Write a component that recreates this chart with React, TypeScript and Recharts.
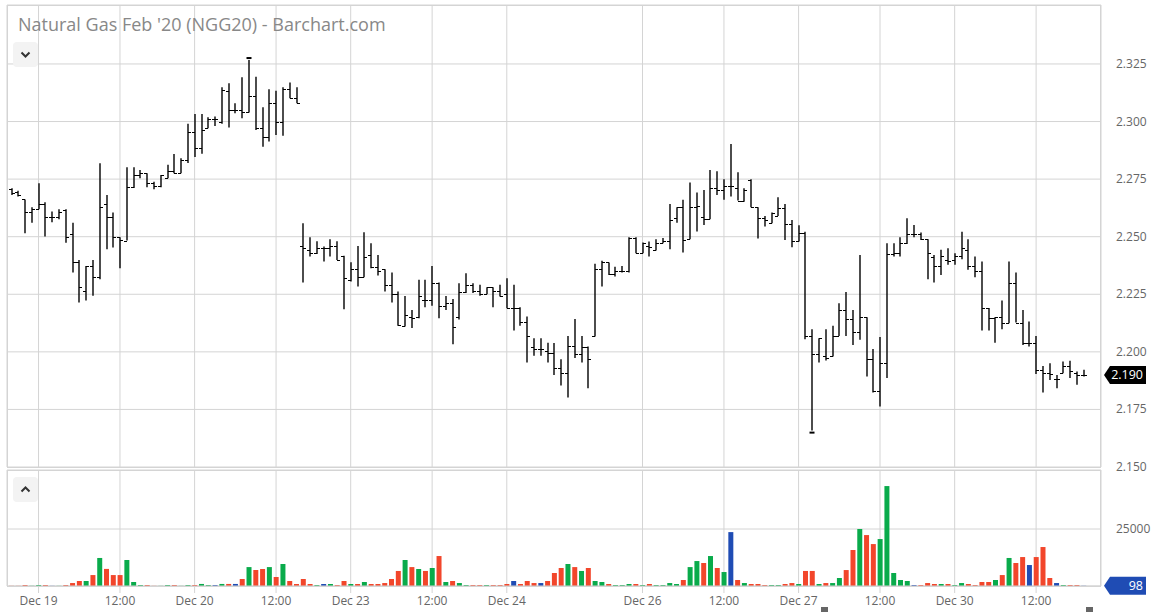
import type { JSX } from "react"
import {
  Bar,
  CartesianGrid,
  Cell,
  ComposedChart,
  ReferenceLine,
  XAxis,
  YAxis,
} from "recharts"

// trading sessions (CT hours), used to build the hourly categories
const sessions: Array<[string, number, number]> = [
  ["Dec 18", 20, 23],
  ["Dec 19", 0, 15], ["Dec 19", 17, 23],
  ["Dec 20", 0, 15],
  ["Dec 22", 17, 23],
  ["Dec 23", 0, 15], ["Dec 23", 17, 23],
  ["Dec 24", 0, 12],
  ["Dec 25", 17, 23],
  ["Dec 26", 0, 15], ["Dec 26", 17, 23],
  ["Dec 27", 0, 15],
  ["Dec 29", 17, 23],
  ["Dec 30", 0, 15], ["Dec 30", 17, 20],
]

const opens = [
  2.2707, 2.2692, 2.2662, 2.2609, 2.2619, 2.2642, 2.2587, 2.2587, 2.2616, 2.2511,
  2.2389, 2.2266, 2.2373, 2.2323, 2.2642, 2.2587, 2.2498, 2.2483, 2.2715, 2.2768,
  2.2775, 2.2732, 2.2718, 2.2754, 2.2787, 2.2778, 2.2835, 2.2955, 2.2885, 2.2972,
  2.3010, 2.3000, 2.3134, 2.3050, 2.3050, 2.3040, 2.3111, 2.2971, 2.2935, 2.3079,
  2.2998, 2.3140, 2.3101, 2.2460, 2.2443, 2.2428, 2.2450, 2.2450, 2.2460, 2.2414,
  2.2313, 2.2359, 2.2327, 2.2421, 2.2370, 2.2359, 2.2290, 2.2250, 2.2113, 2.2151,
  2.2151, 2.2226, 2.2223, 2.2301, 2.2200, 2.2211, 2.2151, 2.2259, 2.2290, 2.2266,
  2.2250, 2.2281, 2.2266, 2.2250, 2.2189, 2.2189, 2.2129, 2.2020, 2.2012, 2.2002,
  2.1997, 2.1929, 2.1910, 2.2026, 2.1991, 2.2023, 2.2067, 2.2359, 2.2388, 2.2338,
  2.2349, 2.2349, 2.2494, 2.2428, 2.2460, 2.2443, 2.2472, 2.2482, 2.2580, 2.2628,
  2.2489, 2.2628, 2.2587, 2.2576, 2.2710, 2.2703, 2.2718, 2.2710, 2.2657, 2.2746,
  2.2628, 2.2580, 2.2561, 2.2590, 2.2623, 2.2556, 2.2482, 2.2518, 2.2067, 2.1991,
  2.1980, 2.1983, 2.2069, 2.2182, 2.2142, 2.2088, 2.2150, 2.1968, 2.1828, 2.1951,
  2.2425, 2.2431, 2.2472, 2.2512, 2.2512, 2.2489, 2.2410, 2.2373, 2.2399, 2.2399,
  2.2414, 2.2443, 2.2373, 2.2349, 2.2190, 2.2146, 2.2150, 2.2127, 2.2298, 2.2127,
  2.2038, 2.2038, 2.1922, 2.1910, 2.1881, 2.1910, 2.1939, 2.1910, 2.1900,
]

const highs = [
  2.2710, 2.2700, 2.2662, 2.2628, 2.2732, 2.2650, 2.2609, 2.2619, 2.2619, 2.2561,
  2.2399, 2.2373, 2.2399, 2.2819, 2.2681, 2.2605, 2.2498, 2.2802, 2.2802, 2.2790,
  2.2775, 2.2739, 2.2768, 2.2812, 2.2859, 2.2841, 2.2990, 2.3033, 2.3033, 2.3019,
  2.3022, 2.3149, 2.3166, 2.3079, 2.3192, 2.3267, 2.3195, 2.3062, 2.3140, 2.3134,
  2.3149, 2.3170, 2.3149, 2.2558, 2.2498, 2.2480, 2.2457, 2.2489, 2.2480, 2.2417,
  2.2389, 2.2460, 2.2519, 2.2472, 2.2421, 2.2359, 2.2344, 2.2262, 2.2243, 2.2182,
  2.2313, 2.2313, 2.2373, 2.2301, 2.2243, 2.2229, 2.2298, 2.2341, 2.2298, 2.2291,
  2.2281, 2.2281, 2.2291, 2.2320, 2.2291, 2.2194, 2.2153, 2.2059, 2.2059, 2.2040,
  2.2038, 2.1968, 2.2069, 2.2143, 2.2069, 2.2023, 2.2382, 2.2396, 2.2388, 2.2370,
  2.2373, 2.2498, 2.2498, 2.2475, 2.2479, 2.2489, 2.2494, 2.2642, 2.2628, 2.2660,
  2.2735, 2.2692, 2.2703, 2.2790, 2.2784, 2.2749, 2.2903, 2.2780, 2.2710, 2.2749,
  2.2628, 2.2590, 2.2605, 2.2671, 2.2642, 2.2573, 2.2550, 2.2521, 2.2098, 2.2059,
  2.2098, 2.2113, 2.2211, 2.2260, 2.2182, 2.2421, 2.2150, 2.2012, 2.2064, 2.2472,
  2.2472, 2.2498, 2.2580, 2.2551, 2.2518, 2.2489, 2.2421, 2.2443, 2.2450, 2.2428,
  2.2521, 2.2489, 2.2414, 2.2392, 2.2190, 2.2150, 2.2223, 2.2392, 2.2344, 2.2182,
  2.2132, 2.2069, 2.1939, 2.1951, 2.1900, 2.1958, 2.1961, 2.1915, 2.1922,
]

const lows = [
  2.2681, 2.2674, 2.2515, 2.2561, 2.2619, 2.2501, 2.2563, 2.2576, 2.2474, 2.2344,
  2.2214, 2.2223, 2.2244, 2.2315, 2.2446, 2.2453, 2.2363, 2.2483, 2.2711, 2.2754,
  2.2715, 2.2706, 2.2715, 2.2754, 2.2775, 2.2775, 2.2820, 2.2846, 2.2860, 2.2971,
  2.2981, 2.2990, 2.2974, 2.3036, 2.3014, 2.3039, 2.2963, 2.2891, 2.2913, 2.2942,
  2.2938, 2.3101, 2.3079, 2.2301, 2.2414, 2.2425, 2.2392, 2.2414, 2.2399, 2.2185,
  2.2305, 2.2284, 2.2324, 2.2363, 2.2331, 2.2262, 2.2214, 2.2113, 2.2110, 2.2103,
  2.2146, 2.2194, 2.2200, 2.2146, 2.2182, 2.2033, 2.2140, 2.2255, 2.2255, 2.2244,
  2.2250, 2.2194, 2.2240, 2.2189, 2.2093, 2.2113, 2.1954, 2.1983, 2.1983, 2.1954,
  2.1900, 2.1854, 2.1802, 2.1973, 2.1954, 2.1842, 2.2067, 2.2284, 2.2334, 2.2327,
  2.2344, 2.2344, 2.2428, 2.2428, 2.2414, 2.2440, 2.2472, 2.2446, 2.2561, 2.2431,
  2.2489, 2.2522, 2.2551, 2.2576, 2.2681, 2.2660, 2.2674, 2.2657, 2.2652, 2.2628,
  2.2492, 2.2544, 2.2558, 2.2590, 2.2486, 2.2454, 2.2479, 2.2055, 2.1658, 2.1954,
  2.1962, 2.1980, 2.2069, 2.2069, 2.2030, 2.2052, 2.1893, 2.1823, 2.1763, 2.1886,
  2.2414, 2.2414, 2.2468, 2.2498, 2.2486, 2.2315, 2.2301, 2.2334, 2.2378, 2.2378,
  2.2402, 2.2356, 2.2324, 2.2093, 2.2093, 2.2040, 2.2098, 2.2124, 2.2127, 2.2030,
  2.2023, 2.1904, 2.1823, 2.1878, 2.1842, 2.1907, 2.1886, 2.1857, 2.1893,
]

const closes = [
  2.2689, 2.2682, 2.2609, 2.2619, 2.2642, 2.2587, 2.2587, 2.2609, 2.2498, 2.2389,
  2.2281, 2.2373, 2.2323, 2.2628, 2.2587, 2.2498, 2.2486, 2.2715, 2.2768, 2.2775,
  2.2732, 2.2718, 2.2768, 2.2787, 2.2778, 2.2835, 2.2955, 2.2885, 2.2965, 2.3010,
  2.3010, 2.3135, 2.3050, 2.3050, 2.3040, 2.3111, 2.2971, 2.2935, 2.3079, 2.2998,
  2.3140, 2.3101, 2.3079, 2.2453, 2.2428, 2.2450, 2.2450, 2.2460, 2.2399, 2.2320,
  2.2359, 2.2327, 2.2411, 2.2370, 2.2352, 2.2290, 2.2250, 2.2117, 2.2158, 2.2146,
  2.2243, 2.2223, 2.2301, 2.2200, 2.2211, 2.2110, 2.2259, 2.2290, 2.2266, 2.2250,
  2.2281, 2.2266, 2.2243, 2.2189, 2.2189, 2.2129, 2.2067, 2.2012, 2.2012, 2.1997,
  2.1929, 2.1910, 2.2026, 2.1991, 2.2023, 2.1968, 2.2359, 2.2388, 2.2338, 2.2349,
  2.2353, 2.2494, 2.2428, 2.2472, 2.2457, 2.2472, 2.2482, 2.2573, 2.2628, 2.2486,
  2.2628, 2.2635, 2.2576, 2.2710, 2.2703, 2.2718, 2.2718, 2.2657, 2.2703, 2.2628,
  2.2580, 2.2573, 2.2602, 2.2623, 2.2556, 2.2482, 2.2518, 2.2067, 2.1991, 2.2059,
  2.1975, 2.2069, 2.2182, 2.2142, 2.2088, 2.2150, 2.1968, 2.1828, 2.1951, 2.2425,
  2.2431, 2.2472, 2.2512, 2.2512, 2.2489, 2.2428, 2.2373, 2.2414, 2.2395, 2.2414,
  2.2450, 2.2373, 2.2349, 2.2190, 2.2146, 2.2150, 2.2127, 2.2298, 2.2127, 2.2038,
  2.2038, 2.1922, 2.1910, 2.1905, 2.1881, 2.1939, 2.1915, 2.1900, 2.1900,
]

const volumes = [
  80, 80, 440, 80, 440, 440, 80, 80, 440, 1300,
  2200, 2200, 4800, 12300, 7500, 4800, 4800, 11400, 1750, 450,
  450, 80, 80, 450, 450, 80, 450, 450, 900, 450,
  450, 900, 900, 900, 3070, 8300, 7000, 7450, 8300, 3950,
  9650, 2200, 880, 3070, 880, 440, 880, 880, 440, 2200,
  880, 880, 1750, 880, 880, 1300, 3070, 6600, 11400, 8300,
  7450, 6600, 7900, 13150, 1750, 2200, 1300, 440, 440, 440,
  440, 440, 440, 880, 2200, 880, 2200, 1300, 1300, 2200,
  5700, 7900, 9650, 8300, 6600, 7900, 2200, 1750, 880, 440,
  440, 880, 880, 440, 880, 440, 440, 1300, 880, 2630,
  8300, 10950, 10100, 13150, 7900, 6130, 23650, 2630, 1300, 880,
  880, 440, 440, 440, 880, 1300, 880, 6600, 6600, 880,
  1300, 1300, 3500, 7000, 15800, 25000, 22350, 18400, 20600, 43850,
  5700, 2630, 2200, 440, 440, 1300, 880, 880, 880, 440,
  1300, 880, 440, 1750, 1750, 2630, 4800, 12300, 10100, 12700,
  9200, 12700, 17100, 3500, 1300, 440, 440, 440, 98,
]

const tickKeys = [
  "Dec 19 00:00", "Dec 19 12:00", "Dec 20 00:00", "Dec 20 12:00", "Dec 23 00:00",
  "Dec 23 12:00", "Dec 24 00:00", "Dec 26 00:00", "Dec 26 12:00", "Dec 27 00:00",
  "Dec 27 12:00", "Dec 30 00:00", "Dec 30 12:00",
]
const tickLabels = [
  "Dec 19", "12:00", "Dec 20", "12:00", "Dec 23", "12:00", "Dec 24",
  "Dec 26", "12:00", "Dec 27", "12:00", "Dec 30", "12:00",
]
const priceTicks = [2.15, 2.175, 2.2, 2.225, 2.25, 2.275, 2.3, 2.325]
const volumeTicks = [25000]

const FONT = "'Open Sans', sans-serif"
const GRID = "#d4d4d4"
const UP = "#09ab4b"
const DOWN = "#f2462b"
const FLAT = "#1f4cb4"

const hours: string[] = []
sessions.forEach(([day, from, to]) => {
  for (let h = from; h <= to; h++) hours.push(`${day} ${String(h).padStart(2, "0")}:00`)
})

const data = hours.map((t, i) => ({
  t,
  open: opens[i],
  high: highs[i],
  low: lows[i],
  close: closes[i],
  range: [lows[i], highs[i]],
  volume: volumes[i],
}))

const maxHigh = Math.max(...highs)
const minLow = Math.min(...lows)
const lastClose = closes[closes.length - 1]
const lastVolume = volumes[volumes.length - 1]

const barColor = (i: number) =>
  closes[i] > opens[i] ? UP : closes[i] < opens[i] ? DOWN : FLAT

const tickLabel = (value: string) => tickLabels[tickKeys.indexOf(value)] ?? ""

function OhlcShape(props: any): JSX.Element {
  const { x, y, width, height, payload } = props
  const top = Math.min(y, y + height)
  const bottom = Math.max(y, y + height)
  const span = payload.high - payload.low
  const toY = (v: number) => (span > 0 ? top + ((payload.high - v) / span) * (bottom - top) : top)
  const cx = Math.round(x + width / 2)
  const yo = Math.round(toY(payload.open)) + 0.5
  const yc = Math.round(toY(payload.close)) + 0.5

  return (
    <g>
      <line x1={cx} x2={cx} y1={top} y2={bottom} stroke="#000" strokeWidth={1.4} />
      <line x1={cx - 3} x2={cx} y1={yo} y2={yo} stroke="#000" strokeWidth={1} />
      <line x1={cx} x2={cx + 3} y1={yc} y2={yc} stroke="#000" strokeWidth={1} />
      {payload.high === maxHigh && (
        <line x1={cx - 2.5} x2={cx + 2.5} y1={top - 2} y2={top - 2} stroke="#000" strokeWidth={2} />
      )}
      {payload.low === minLow && (
        <line x1={cx - 2.5} x2={cx + 2.5} y1={bottom + 2} y2={bottom + 2} stroke="#000" strokeWidth={2} />
      )}
    </g>
  )
}

function AxisTick(props: any): JSX.Element {
  const { x, y, payload, format } = props
  return (
    <text x={x + 13} y={y} dy={4} textAnchor="start" fill="#666" fontSize={12} fontFamily={FONT}>
      {format(payload.value)}
    </text>
  )
}

function Tag(props: any): JSX.Element {
  const { viewBox, text, color } = props
  const left = viewBox.x + viewBox.width + 3
  const cy = viewBox.y
  const right = 1146
  return (
    <g>
      <polygon
        points={`${left},${cy} ${left + 6},${cy - 9} ${right},${cy - 9} ${right},${cy + 9} ${left + 6},${cy + 9}`}
        fill={color}
      />
      <text x={right - 3} y={cy} dy={4.5} textAnchor="end" fill="#fff" fontSize={12.5} fontFamily={FONT}>
        {text}
      </text>
    </g>
  )
}

function Chevron({ up }: { up: boolean }): JSX.Element {
  return (
    <svg width={25} height={25} style={{ display: "block" }}>
      <polyline
        points={up ? "8.5,14.5 12.5,10.5 16.5,14.5" : "8.5,10.5 12.5,14.5 16.5,10.5"}
        fill="none"
        stroke="#333"
        strokeWidth={2}
      />
    </svg>
  )
}

export default function App(): JSX.Element {
  const xPadding = { left: 1, right: 14 }

  return (
    <div
      style={{
        position: "absolute",
        left: 0,
        top: 0,
        width: 1156,
        height: 612,
        background: "#fff",
        overflow: "hidden",
        fontFamily: FONT,
      }}
    >
      <div style={{ position: "absolute", left: 0, top: 0 }}>
        <ComposedChart width={1156} height={480} data={data} margin={{ top: 5, right: 0, bottom: 13, left: 7 }}>
          <CartesianGrid stroke={GRID} />
          <XAxis dataKey="t" hide ticks={tickKeys} interval={0} padding={xPadding} />
          <YAxis
            orientation="right"
            width={55}
            domain={[2.15, 2.3506]}
            ticks={priceTicks}
            allowDataOverflow
            axisLine={false}
            tickLine={false}
            tickSize={0}
            tick={<AxisTick format={(v: number) => v.toFixed(3)} />}
          />
          <Bar dataKey="range" barSize={5} isAnimationActive={false} shape={<OhlcShape />} />
          <ReferenceLine
            y={lastClose}
            stroke="none"
            ifOverflow="visible"
            label={(p: any) => <Tag {...p} text={lastClose.toFixed(3)} color="#000" />}
          />
        </ComposedChart>
      </div>

      <div style={{ position: "absolute", left: 0, top: 465 }}>
        <ComposedChart width={1156} height={147} data={data} margin={{ top: 5, right: 0, bottom: 0, left: 7 }}>
          <CartesianGrid stroke={GRID} />
          <XAxis
            dataKey="t"
            ticks={tickKeys}
            interval={0}
            padding={xPadding}
            height={26}
            tickFormatter={tickLabel}
            axisLine={{ stroke: GRID }}
            tickLine={{ stroke: GRID }}
            tickSize={7}
            tickMargin={3}
            tick={{ fill: "#666", fontSize: 12, fontFamily: FONT }}
          />
          <YAxis
            orientation="right"
            width={55}
            domain={[0, 50900]}
            ticks={volumeTicks}
            allowDataOverflow
            axisLine={false}
            tickLine={false}
            tickSize={0}
            tick={<AxisTick format={(v: number) => String(v)} />}
          />
          <Bar dataKey="volume" barSize={5} isAnimationActive={false}>
            {data.map((d, i) => (
              <Cell key={d.t} fill={barColor(i)} />
            ))}
          </Bar>
          <ReferenceLine
            y={lastVolume}
            stroke="none"
            ifOverflow="visible"
            label={(p: any) => <Tag {...p} text={String(lastVolume)} color={FLAT} />}
          />
        </ComposedChart>
      </div>

      {/* pane frames */}
      <div style={{ position: "absolute", left: 7, top: 5, width: 1094, height: 463, border: `1px solid ${GRID}`, boxSizing: "border-box", pointerEvents: "none" }} />
      <div style={{ position: "absolute", left: 7, top: 470, width: 1094, height: 117, border: `1px solid ${GRID}`, boxSizing: "border-box", pointerEvents: "none" }} />

      <div style={{ position: "absolute", left: 18, top: 11, fontSize: 18, lineHeight: "26px", color: "#888", whiteSpace: "nowrap" }}>
        Natural Gas Feb '20 (NGG20) - Barchart.com
      </div>

      <div style={{ position: "absolute", left: 13, top: 42, width: 25, height: 25, background: "#f3f3f3", borderRadius: 4 }}>
        <Chevron up={false} />
      </div>
      <div style={{ position: "absolute", left: 13, top: 477, width: 25, height: 25, background: "#f3f3f3", borderRadius: 4 }}>
        <Chevron up />
      </div>

      <div style={{ position: "absolute", left: 821, top: 607, width: 7, height: 5, background: "#666" }} />
      <div style={{ position: "absolute", left: 1086, top: 607, width: 7, height: 5, background: "#666" }} />
    </div>
  )
}
